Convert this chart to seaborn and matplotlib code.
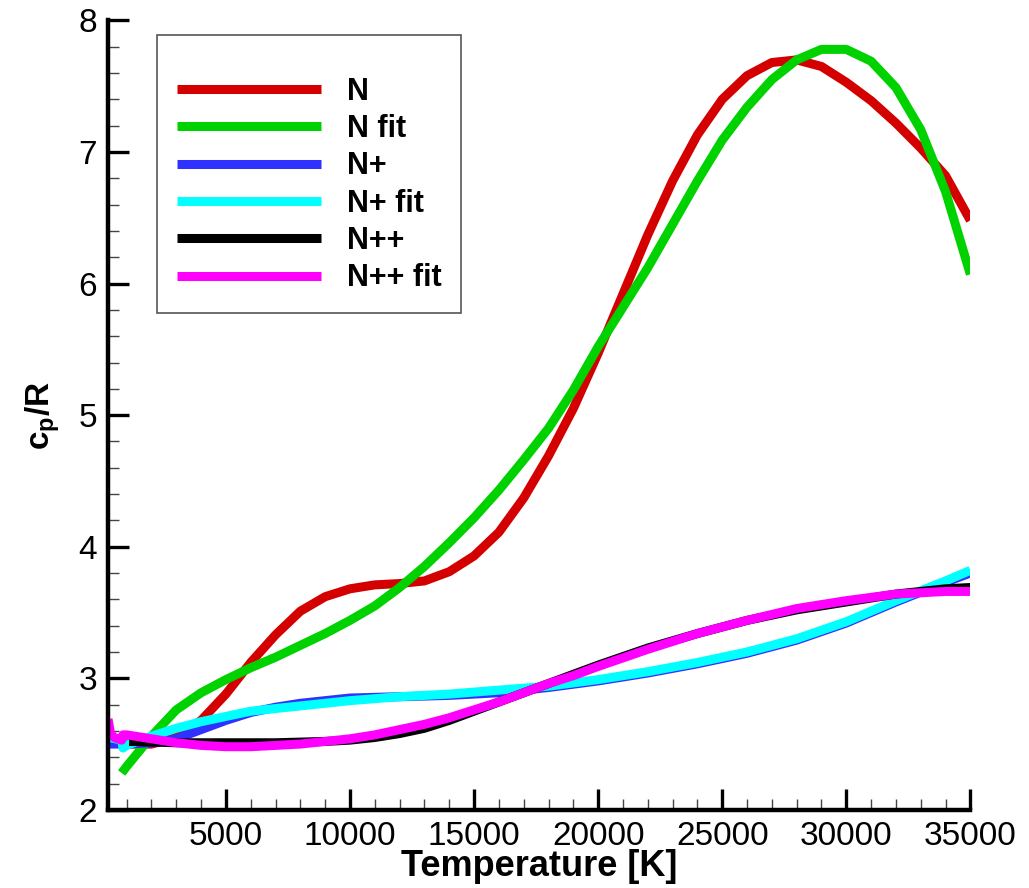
import numpy as np
import pandas as pd
import matplotlib
matplotlib.use("Agg")
import matplotlib.pyplot as plt
from matplotlib.ticker import MultipleLocator
import seaborn as sns

# ── Data ──────────────────────────────────────────────────
T_N = [1000, 2000, 3000, 4000, 5000, 6000, 7000, 8000, 9000, 10000,
       11000, 12000, 13000, 14000, 15000, 16000, 17000, 18000, 19000, 20000,
       21000, 22000, 23000, 24000, 25000, 26000, 27000, 28000, 29000, 30000,
       31000, 32000, 33000, 34000, 35000]
cp_N = [2.50, 2.50, 2.55, 2.68, 2.88, 3.12, 3.33, 3.51, 3.62, 3.68,
        3.71, 3.72, 3.74, 3.81, 3.93, 4.11, 4.37, 4.69, 5.05, 5.47,
        5.92, 6.37, 6.78, 7.13, 7.40, 7.58, 7.68, 7.70, 7.65, 7.53,
        7.39, 7.22, 7.03, 6.82, 6.48]

T_N_fit = [800, 1000, 2000, 3000, 4000, 5000, 6000, 7000, 8000, 9000, 10000,
           11000, 12000, 13000, 14000, 15000, 16000, 17000, 18000, 19000, 20000,
           21000, 22000, 23000, 24000, 25000, 26000, 27000, 28000, 29000, 30000,
           31000, 32000, 33000, 34000, 35000]
cp_N_fit = [2.28, 2.33, 2.56, 2.76, 2.89, 2.99, 3.08, 3.16, 3.25, 3.34, 3.44,
            3.55, 3.69, 3.85, 4.03, 4.22, 4.43, 4.66, 4.90, 5.19, 5.52,
            5.82, 6.12, 6.45, 6.78, 7.09, 7.34, 7.55, 7.70, 7.78, 7.78,
            7.69, 7.49, 7.17, 6.70, 6.07]

T_Np = [300, 1000, 2000, 3000, 4000, 5000, 6000, 7000, 8000, 9000, 10000,
        12000, 14000, 16000, 18000, 20000, 22000, 24000, 26000, 28000, 30000,
        32000, 34000, 35000]
cp_Np = [2.50, 2.50, 2.51, 2.54, 2.61, 2.68, 2.74, 2.78, 2.81, 2.83, 2.85,
         2.86, 2.87, 2.89, 2.93, 2.98, 3.04, 3.11, 3.19, 3.29, 3.42,
         3.58, 3.73, 3.80]

T_Np_fit = [300, 800, 850, 1000, 2000, 3000, 4000, 5000, 6000, 7000, 8000, 9000,
            10000, 12000, 14000, 16000, 18000, 20000, 22000, 24000, 26000, 28000,
            30000, 32000, 34000, 35000]
cp_Np_fit = [2.55, 2.53, 2.47, 2.49, 2.56, 2.62, 2.67, 2.71, 2.75, 2.77, 2.79, 2.81,
             2.83, 2.86, 2.88, 2.91, 2.94, 2.99, 3.05, 3.12, 3.20, 3.30,
             3.43, 3.59, 3.74, 3.82]

T_Npp = [1100, 3000, 5000, 7000, 9000, 10000, 11000, 12000, 13000, 14000,
         15000, 16000, 17000, 18000, 19000, 20000, 22000, 24000, 26000, 28000,
         30000, 32000, 34000, 35000]
cp_Npp = [2.52, 2.51, 2.51, 2.51, 2.52, 2.53, 2.55, 2.58, 2.62, 2.68,
          2.75, 2.82, 2.89, 2.96, 3.03, 3.10, 3.23, 3.34, 3.44, 3.52,
          3.58, 3.64, 3.68, 3.69]

T_Npp_fit = [250, 350, 500, 800, 850, 1000, 2000, 3000, 4000, 5000, 6000, 7000,
             8000, 9000, 10000, 11000, 12000, 13000, 14000, 15000, 16000, 17000,
             18000, 19000, 20000, 22000, 24000, 26000, 28000, 30000, 32000,
             34000, 35000]
cp_Npp_fit = [2.69, 2.58, 2.55, 2.53, 2.57, 2.57, 2.54, 2.51, 2.49, 2.48, 2.48, 2.49,
              2.50, 2.52, 2.54, 2.57, 2.61, 2.65, 2.70, 2.76, 2.82, 2.89,
              2.96, 3.02, 3.09, 3.22, 3.34, 3.44, 3.53, 3.59, 3.64,
              3.66, 3.66]

series = [
    ("N",       T_N,       cp_N,       "#d40000"),
    ("N fit",   T_N_fit,   cp_N_fit,   "#00d200"),
    ("N+",      T_Np,      cp_Np,      "#3030ff"),
    ("N+ fit",  T_Np_fit,  cp_Np_fit,  "#00ffff"),
    ("N++",     T_Npp,     cp_Npp,     "#000000"),
    ("N++ fit", T_Npp_fit, cp_Npp_fit, "#ff00ff"),
]

# ── Styling ────────────────────────────────────────────────
sns.set_theme(style="white")
plt.rcParams["font.family"] = ["Liberation Sans", "DejaVu Sans"]
plt.rcParams.update({
    "text.color": "black",
    "axes.labelcolor": "black",
    "xtick.color": "black",
    "ytick.color": "black",
    "mathtext.fontset": "custom",
    "mathtext.rm": "Liberation Sans",
    "mathtext.bf": "Liberation Sans:bold",
    "lines.solid_capstyle": "butt",
})

fig = plt.figure(figsize=(10.29, 8.88), dpi=100)
ax = fig.add_axes([0.105, 0.088, 0.838, 0.889])

for name, t, cp, color in series:
    sns.lineplot(x=t, y=cp, color=color, lw=6.5, label=name, ax=ax,
                 sort=False, solid_capstyle="butt")

ax.set_xlim(250, 35000)
ax.set_ylim(2, 8)
ax.xaxis.set_major_locator(MultipleLocator(5000))
ax.xaxis.set_minor_locator(MultipleLocator(1000))
ax.yaxis.set_major_locator(MultipleLocator(1))
ax.yaxis.set_minor_locator(MultipleLocator(0.2))
ax.set_xticks([5000, 10000, 15000, 20000, 25000, 30000, 35000])

for side in ["top", "right"]:
    ax.spines[side].set_visible(False)
for side in ["left", "bottom"]:
    ax.spines[side].set_linewidth(3.2)
    ax.spines[side].set_color("black")

ax.tick_params(which="major", direction="in", length=15, width=2.4,
               colors="black", labelsize=24, pad=8)
ax.tick_params(which="minor", direction="in", length=8, width=1,
               colors="#444444")
ax.tick_params(axis="x", which="both", bottom=True)
ax.tick_params(axis="y", which="both", left=True)

ax.set_xlabel("Temperature [K]", fontsize=26, fontweight="bold", labelpad=-2)
ax.set_ylabel(r"$\mathbf{c_p/R}$", fontsize=24, labelpad=12)

leg = ax.legend(loc="upper left", bbox_to_anchor=(0.057, 0.982),
                prop={"weight": "bold", "size": 22},
                title=" ", title_fontsize=12,
                handlelength=4.7, handletextpad=0.85, labelspacing=0.24,
                borderpad=0.65, borderaxespad=0, fancybox=False, framealpha=1)
leg.get_frame().set_edgecolor("#555555")
leg.get_frame().set_linewidth(1.2)
for line in leg.get_lines():
    line.set_linewidth(6.5)
    line.set_solid_capstyle("butt")

fig.savefig("out.png", dpi=100, facecolor="white")
